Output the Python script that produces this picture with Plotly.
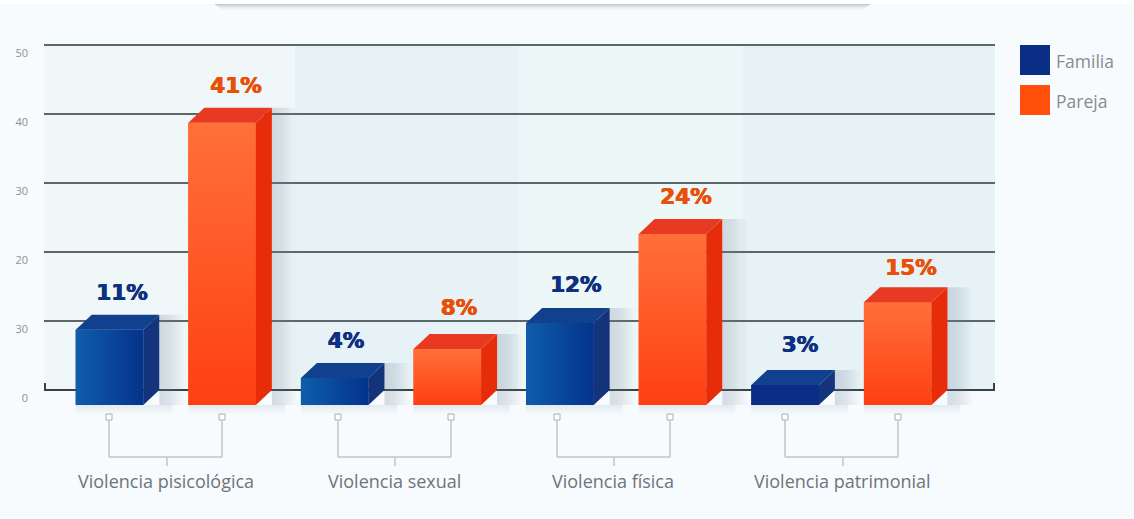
import plotly.graph_objects as go

categories = ["Violencia pisicológica", "Violencia sexual", "Violencia física", "Violencia patrimonial"]
series_names = ["Familia", "Pareja"]
# heights as drawn in the picture (the boxes do not sit exactly on their printed percentages)
familia = [10.9, 3.9, 11.9, 2.9]
pareja = [40.9, 8.1, 24.8, 14.9]
# percentages printed above the boxes
familia_labels = ["11%", "4%", "12%", "3%"]
pareja_labels = ["41%", "8%", "24%", "15%"]
tick_values = [0, 10, 20, 30, 40, 50]
tick_labels = ["0", "30", "20", "30", "40", "50"]

W, H = 1134, 519
L, R, T = 44, 995, 35   # plot frame in pixels (top leaves room for the 50 gridline)
PX_Y = 6.9              # pixels per value unit
PX_X = 112.6            # pixels per bar slot
X0 = 109.5              # pixel centre of the first bar
BAR_W = 0.6
DX = 16 / PX_X          # depth of the fake 3D box
DY = 15 / PX_Y
BASE = -DY

def paper_x(p):
    return (p - L) / (R - L)

def paper_y(p):
    return (H - p) / (H - T)

def data_x(p):
    return (p - X0) / PX_X

FONT = "Open Sans, Noto Sans, sans-serif"
BG = "#f7fbfe"
NAVY, ORANGE = "#0a2d86", "#ff4f0a"
styles = {
    "Familia": dict(front=NAVY, lo="#04338c", hi="#0f5dab", top="#11408f", side0="#13347b", text="#0e3080", grad="horizontal"),
    "Pareja": dict(front=ORANGE, lo="#ff3f12", hi="#ff7038", top="#e83a22", side0="#e62c08", text="#e8500a", grad="vertical"),
}

fig = go.Figure()
positions = {"Familia": [2 * i for i in range(4)], "Pareja": [2 * i + 1 for i in range(4)]}
values = {"Familia": familia, "Pareja": pareja}
labels = {"Familia": familia_labels, "Pareja": pareja_labels}
# small hand offsets of the printed labels, in pixels from the bar centre / box top
label_dx = {"Familia": [12.5, 11.3, 16, 15], "Pareja": [14, 11.7, 13.5, 13.3]}
label_dy = {"Familia": [20, 20, 21, 23], "Pareja": [20, 24, 20, 18]}

# solid front faces
for name in series_names:
    fig.add_trace(go.Bar(x=positions[name], y=values[name], base=BASE, width=BAR_W, name=name,
                         marker=dict(color=styles[name]["front"], line_width=0), showlegend=False))

def poly(xs, ys, **kw):
    fig.add_trace(go.Scatter(x=xs, y=ys, mode="lines", fill="toself", line_width=0, hoverinfo="skip",
                             showlegend=False, **kw))

for name in series_names:
    s = styles[name]
    for x, v in zip(positions[name], values[name]):
        l, r = x - BAR_W / 2, x + BAR_W / 2
        top_f = BASE + v
        sw = 26 / PX_X
        # soft shadow right of the box
        poly([r + DX, r + DX + sw, r + DX + sw, r + DX],
             [v, v, BASE, BASE],
             fillgradient=dict(type="horizontal",
                               colorscale=[[0, "rgba(110,130,150,0.26)"], [0.4, "rgba(110,130,150,0.2)"], [1, "rgba(110,130,150,0)"]]))
        # soft shadow under the box
        poly([l, r + DX + sw * 0.5, r + DX + sw * 0.5, l],
             [BASE, BASE, BASE - 1.5, BASE - 1.5],
             fillgradient=dict(type="vertical",
                               colorscale=[[0, "rgba(110,130,150,0)"], [1, "rgba(110,130,150,0.14)"]]))
        # gradient on front face
        flat = name == "Familia" and v == min(familia)
        colors = [[0, s["front"]], [1, s["front"]]] if flat else (
            [[0, s["hi"]], [1, s["lo"]]] if s["grad"] == "horizontal" else [[0, s["lo"]], [1, s["hi"]]])
        poly([l, r, r, l], [BASE, BASE, top_f, top_f],
             fillgradient=dict(type=s["grad"], colorscale=colors))
        # side face
        poly([r, r + DX, r + DX, r], [BASE, BASE + DY, v, top_f], fillcolor=s["side0"])
        # top face
        poly([l, r, r + DX, l + DX], [top_f, top_f, v, v], fillcolor=s["top"])

# value labels
for name in series_names:
    c = styles[name]["text"]
    fig.add_trace(go.Scatter(
        x=[p + dx / PX_X for p, dx in zip(positions[name], label_dx[name])],
        y=[v + dy / PX_Y for v, dy in zip(values[name], label_dy[name])],
        text=[f"<b>{t}</b>" for t in labels[name]],
        mode="text", textposition="middle center", showlegend=False, hoverinfo="skip",
        textfont=dict(family="DejaVu Sans, sans-serif", size=21.5, color=c,
                      shadow=f"0.5px 0 0 {c}, -0.5px 0 0 {c}"),
    ))

shapes = []

def rect(x0, y0, x1, y1, color, layer="below", opacity=1.0, line=None):
    shapes.append(dict(type="rect", xref="paper", yref="paper", x0=paper_x(x0), x1=paper_x(x1),
                       y0=paper_y(y0), y1=paper_y(y1), fillcolor=color, opacity=opacity, layer=layer,
                       line=line or dict(width=0)))

def seg(x0, y0, x1, y1, color, width=1.5, layer="below"):
    shapes.append(dict(type="line", xref="paper", yref="paper", x0=paper_x(x0), x1=paper_x(x1),
                       y0=paper_y(y0), y1=paper_y(y1), layer=layer, line=dict(color=color, width=width)))

# top card and its shadow
rect(0, 0, W, 4, "#ffffff")
for k in range(8):
    inset = k * 1.5
    rect(215 + inset, 4 + k, 870 - inset, 5 + k, "#7f8a92", opacity=0.42 * (1 - k / 8) ** 2.2)

# alternating column bands
bands = [(L, 295, "#f0f7f8"), (295, 518, "#e7f2f7"), (518, 742, "#eef7f7"), (742, R, "#e7f2f7")]
for a, b, c in bands:
    rect(a, 45, b, 390, c)

# axis end hooks
seg(45, 383, 45, 390, "#3a4042", 2)
seg(994, 383, 994, 390, "#3a4042", 2)

# group brackets and category labels
BR = "#c0c5ca"
bracket_px = [(109, 222, 167), (338, 451, 395), (557, 670, 614), (785, 898, 843)]
annotations = []
for (a, b, c), cat in zip(bracket_px, categories):
    for p in (a, b):
        rect(p - 3, 414, p + 3, 420, "#ffffff", line=dict(color="#a8adb2", width=1))
        seg(p, 420, p, 457, BR)
    seg(a, 457, b, 457, BR)
    seg(c, 457, c, 466, BR)
    annotations.append(dict(xref="paper", yref="paper", x=paper_x(c - 1), y=paper_y(480.5), text=cat,
                            showarrow=False, xanchor="center", yanchor="middle",
                            font=dict(family=FONT, size=18, color="#6f7478")))

# legend
for name, y0, color in zip(series_names, (45, 85), (NAVY, ORANGE)):
    rect(1020, y0, 1050, y0 + 30, color)
    annotations.append(dict(xref="paper", yref="paper", x=paper_x(1054), y=paper_y(y0 + 16), text=name,
                            showarrow=False, xanchor="left", yanchor="middle",
                            font=dict(family=FONT, size=17.5, color="#868b90")))

fig.update_layout(
    width=W, height=H, margin=dict(l=L, r=W - R, t=T, b=0, pad=0),
    paper_bgcolor=BG, plot_bgcolor="rgba(0,0,0,0)", barmode="overlay", showlegend=False,
    xaxis=dict(range=[data_x(L), data_x(R)], visible=False, fixedrange=True),
    yaxis=dict(range=[50 + 10 / PX_Y - (H - T) / PX_Y, 50 + 10 / PX_Y], tickvals=tick_values, ticktext=tick_labels,
               showgrid=True, gridcolor="#5d676b", gridwidth=2,
               zeroline=True, zerolinecolor="#3a4042", zerolinewidth=2, showline=False,
               ticks="", ticklabelshift=8, ticklabelstandoff=15,
               tickfont=dict(family=FONT, size=11, color="#8b9196"), fixedrange=True),
    shapes=shapes, annotations=annotations, font=dict(family=FONT),
)

fig.write_html("out.html", config=dict(displayModeBar=False),
               post_script="document.body.style.margin='0';document.body.style.overflow='hidden';")
